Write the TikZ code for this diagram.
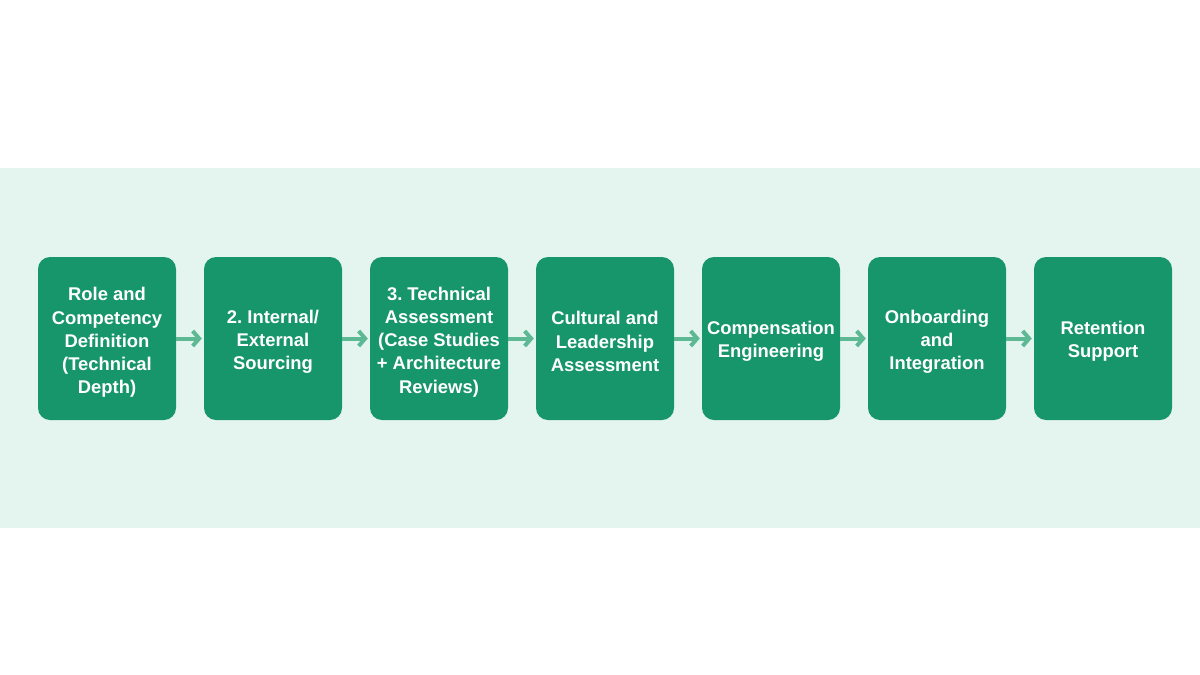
\documentclass[tikz,border=0pt]{standalone}
\usepackage{fontspec}
\setmainfont{Liberation Sans}
\usetikzlibrary{arrows.meta}
\frenchspacing
\definecolor{boxgreen}{HTML}{17956B}
\definecolor{bandbg}{HTML}{E4F5EF}
\definecolor{arrowgreen}{HTML}{5DB894}
\tikzset{
  stagebox/.style={fill=boxgreen, rounded corners=12pt, minimum width=138pt, minimum height=163pt, inner sep=0pt},
  stagetext/.style={text=white, align=center, font=\bfseries\fontsize{18.4pt}{23.2pt}\selectfont, inner sep=0pt},
  flowarrow/.style={draw=arrowgreen, line width=4pt, -{Straight Barb[length=6.5pt,width=15pt,line width=4pt]}, shorten >=2pt}
}
\begin{document}
\begin{tikzpicture}[x=1pt,y=-1pt]
\useasboundingbox (0,0) rectangle (1200,675);
\fill[white] (0,0) rectangle (1200,675);
\fill[bandbg] (0,168) rectangle (1200,528);
\node[stagebox] (s1) at (107,338.5) {};
\node[stagebox] (s2) at (273,338.5) {};
\node[stagebox] (s3) at (439,338.5) {};
\node[stagebox] (s4) at (605,338.5) {};
\node[stagebox] (s5) at (771,338.5) {};
\node[stagebox] (s6) at (937,338.5) {};
\node[stagebox] (s7) at (1103,338.5) {};
\node[stagetext] (t1) at ([yshift=-4pt]s1.center) {Role and\\Competency\\Definition\\(Technical\\Depth)};
\node[stagetext] (t2) at ([yshift=-3pt]s2.center) {2. Internal/\\External\\Sourcing};
\node[stagetext] (t3) at ([yshift=-3.5pt]s3.center) {3. Technical\\Assessment\\(Case Studies\\+ Architecture\\Reviews)};
\node[stagetext] (t4) at ([yshift=-3pt]s4.center) {Cultural and\\Leadership\\Assessment};
\node[stagetext] (t5) at ([yshift=-3pt]s5.center) {Compensation\\Engineering};
\node[stagetext] (t6) at ([yshift=-3pt]s6.center) {Onboarding\\and\\Integration};
\node[stagetext] (t7) at ([yshift=-3pt]s7.center) {Retention\\Support};
\foreach \a/\b in {s1/s2,s2/s3,s3/s4,s4/s5,s5/s6,s6/s7}
  \draw[flowarrow] (\a.east) -- (\b.west);
\end{tikzpicture}
\end{document}
